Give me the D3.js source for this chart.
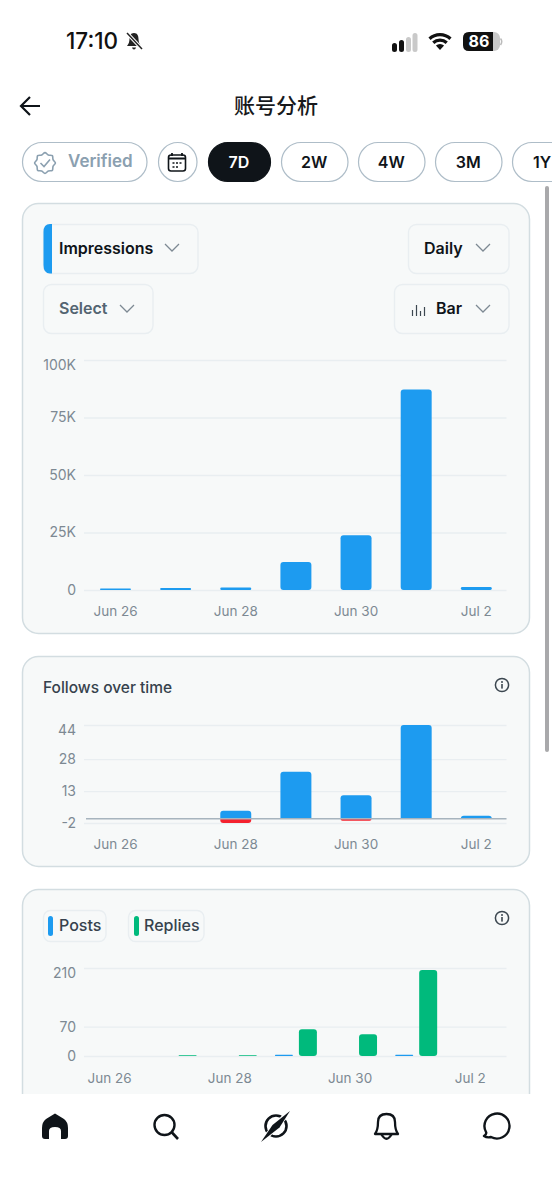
<!DOCTYPE html>
<html>
<head>
<meta charset="utf-8">
<script src="https://cdnjs.cloudflare.com/ajax/libs/d3/7.8.5/d3.min.js"></script>
<style>
html,body{margin:0;padding:0;background:#fff;overflow:hidden}
svg{display:block}
text{font-family:Inter,"Noto Sans",sans-serif}
</style>
</head>
<body>
<svg id="app" width="552" height="1199"></svg>
<script>
// Shared categories
const days = ["Jun 26","Jun 27","Jun 28","Jun 29","Jun 30","Jul 1","Jul 2"];
const dayTicks = ["Jun 26","Jun 28","Jun 30","Jul 2"];

// Impressions
const impressions = [700,850,1050,12200,23800,87200,1300];
const impressionTicks = [0,25000,50000,75000,100000];
const impressionLabels = ["0","25K","50K","75K","100K"];

// Follows
const followsGained = [0,0,3.7,22,11,44,1.4];
const followsLost = [0,0,-2,0,-0.9,0,0];
const followTicks = [-2,13,28,44];

// Posts and replies
const posts = [0,0,0,3,0,3,0];
const replies = [0,2,2,64,52,205,0];
const activityTicks = [0,70,210];

// Range selector
const rangePills = ["7D","2W","4W","3M","1Y"];

const BLUE="#1d9bf0", RED="#f4212e", GREEN="#00ba7c", INK="#0f1419",
      TICK="#7d8993", GRID="#e9eef1", CARD="#f7f9f9", EDGE="#d3dde1", BOX="#e9eef1", PILL="#aebdc8";

const svg=d3.select("#app");
svg.append("defs").append("clipPath").attr("id","page").append("rect")
  .attr("x",0).attr("y",0).attr("width",552).attr("height",1094);
const page=svg.append("g").attr("clip-path","url(#page)");

function card(y,h){
  page.append("rect").attr("x",22.5).attr("y",y).attr("width",507).attr("height",h)
    .attr("rx",16).attr("fill",CARD).attr("stroke",EDGE).attr("stroke-width",1.5);
}
function label(g,x,y,s,size,weight,fill,anchor){
  return g.append("text").attr("x",x).attr("y",y).text(s)
    .attr("font-size",size).attr("font-weight",weight).attr("fill",fill)
    .attr("text-anchor",anchor||"start");
}
function chevron(g,x,y){
  g.append("path").attr("d",`M${x-7} ${y-4}L${x} ${y+3}L${x+7} ${y-4}`)
    .attr("fill","none").attr("stroke","#7d8993").attr("stroke-width",1.25);
}
function box(g,x,y,w,h,r){
  g.append("rect").attr("x",x+.5).attr("y",y+.5).attr("width",w-.5).attr("height",h)
    .attr("rx",r||8).attr("fill",CARD).attr("stroke",BOX).attr("stroke-width",1.4);
}
function infoIcon(g,x,y){
  g.append("circle").attr("cx",x).attr("cy",y).attr("r",6.6).attr("fill","none")
    .attr("stroke","#3c4750").attr("stroke-width",1.5);
  g.append("circle").attr("cx",x).attr("cy",y-3).attr("r",1).attr("fill","#3c4750");
  g.append("rect").attr("x",x-.8).attr("y",y-1).attr("width",1.6).attr("height",4.6).attr("fill","#3c4750");
}
// Bar with only its top (dir 1) or bottom (dir -1) corners rounded
function capped(x,y0,y1,w,r,dir){
  const hi=Math.min(y0,y1), lo=Math.max(y0,y1), c=Math.min(r,lo-hi);
  const p=d3.path();
  if(dir>0){
    p.moveTo(x,lo);p.lineTo(x,hi+c);p.quadraticCurveTo(x,hi,x+c,hi);
    p.lineTo(x+w-c,hi);p.quadraticCurveTo(x+w,hi,x+w,hi+c);p.lineTo(x+w,lo);p.closePath();
  }else{
    p.moveTo(x,hi);p.lineTo(x,lo-c);p.quadraticCurveTo(x,lo,x+c,lo);
    p.lineTo(x+w-c,lo);p.quadraticCurveTo(x+w,lo,x+w,lo-c);p.lineTo(x+w,hi);p.closePath();
  }
  return p.toString();
}
function yAxis(g,y,ticks,fmt){
  const a=g.append("g").attr("transform","translate(84,0)")
    .call(d3.axisLeft(y).tickValues(ticks).tickSize(-422.5).tickPadding(8).tickFormat(fmt||(d=>d)));
  a.select(".domain").remove();
  a.selectAll("line").attr("stroke",GRID).attr("stroke-width",1.3);
  a.selectAll("text").attr("fill",TICK).attr("font-size",14).attr("font-family","Inter");
  // the topmost label sits just under its gridline
  const highest=d3.max(ticks);
  a.selectAll(".tick").filter(d=>d===highest).select("text").attr("dy","0.7em");
  return a;
}
function xAxis(g,x,y,dx){
  const a=g.append("g").attr("transform",`translate(${dx||0},${y})`)
    .call(d3.axisBottom(x).tickValues(dayTicks).tickSize(0).tickPadding(0));
  a.select(".domain").remove();
  a.selectAll("text").attr("fill",TICK).attr("font-size",13.5).attr("font-family","Inter");
}
const xBand=d3.scaleBand().domain(days).range([85.4,506.4]).paddingInner(0.485).paddingOuter(0.2425);

/* ---------- Impressions card ---------- */
card(203.5,430);
const c1=page.append("g");
box(c1,43,224,155,49);
c1.append("path").attr("d","M52 224H50Q43.5 224 43.5 232V265Q43.5 273.5 50 273.5H52Z").attr("fill",BLUE);
label(c1,59,254,"Impressions",16,600,INK);
chevron(c1,172,248);
box(c1,408,224,101,49);
label(c1,424,254,"Daily",16,600,INK);
chevron(c1,483,248);
box(c1,43,284,110,49);
label(c1,59,314,"Select",16,600,"#536471");
chevron(c1,127,309);
box(c1,394,284,115,49);
["M412.5 310v6","M416.5 305v11","M420.5 311v5","M424.5 307v9"].forEach(d=>
  c1.append("path").attr("d",d).attr("stroke","#3c4750").attr("stroke-width",1.2));
label(c1,436,314,"Bar",16,600,INK);
chevron(c1,483,309);

const y1=d3.scaleLinear().domain([0,100000]).range([590,360]);
yAxis(c1,y1,impressionTicks,d=>impressionLabels[impressionTicks.indexOf(d)]);
c1.selectAll(".bar").data(days).join("rect").attr("class","bar")
  .attr("x",d=>xBand(d)).attr("width",xBand.bandwidth())
  .attr("y",(d,i)=>y1(impressions[i])).attr("height",(d,i)=>y1(0)-y1(impressions[i]))
  .attr("rx",(d,i)=>Math.min(3,(y1(0)-y1(impressions[i]))/2)).attr("fill",BLUE);
xAxis(c1,xBand,606);

/* ---------- Follows card ---------- */
card(656.5,210);
const c2=page.append("g");
label(c2,43,693,"Follows over time",15.5,500,"#36424d");
infoIcon(c2,502,685);
const y2=d3.scaleLinear().domain([-2,44]).range([823,725]);
yAxis(c2,y2,followTicks);
c2.selectAll(".gain").data(days.filter((d,i)=>followsGained[i]>0)).join("path").attr("class","gain")
  .attr("d",d=>{const v=followsGained[days.indexOf(d)];
    return capped(xBand(d),y2(0),y2(v),xBand.bandwidth(),3,1);})
  .attr("fill",BLUE);
c2.selectAll(".loss").data(days.filter((d,i)=>followsLost[i]<0)).join("path").attr("class","loss")
  .attr("d",d=>{const v=followsLost[days.indexOf(d)];
    return capped(xBand(d),y2(0),y2(v),xBand.bandwidth(),3,-1);})
  .attr("fill",RED);
c2.append("line").attr("x1",86).attr("x2",506.5).attr("y1",y2(0)).attr("y2",y2(0))
  .attr("stroke","#a7b4be").attr("stroke-width",1.5);
xAxis(c2,xBand,839);

/* ---------- Posts and replies card ---------- */
card(889.5,240);
const c3=page.append("g");
box(c3,43,910,63,31,7);
c3.append("rect").attr("x",48).attr("y",916).attr("width",5).attr("height",20).attr("rx",2.5).attr("fill",BLUE);
label(c3,59,931,"Posts",16,500,"#36424d");
box(c3,128,910,76,31,7);
c3.append("rect").attr("x",134).attr("y",916).attr("width",5).attr("height",20).attr("rx",2.5).attr("fill",GREEN);
label(c3,144,931,"Replies",16,500,"#36424d");
infoIcon(c3,502,918);
const y3=d3.scaleLinear().domain([0,210]).range([1056,968]);
yAxis(c3,y3,activityTicks);
const xGroup=d3.scaleBand().domain(days).range([85.4,506.4]).paddingInner(0.302).paddingOuter(0.151);
const xSeries=d3.scaleBand().domain(["posts","replies"]).range([0,xGroup.bandwidth()]).paddingInner(0.25);
const activity=[["posts",posts,BLUE],["replies",replies,GREEN]];
activity.forEach(([name,vals,color])=>{
  c3.selectAll("."+name).data(days.filter((d,i)=>vals[i]>0)).join("rect").attr("class",name)
    .attr("x",d=>xGroup(d)+xSeries(name)).attr("width",xSeries.bandwidth())
    .attr("y",d=>y3(vals[days.indexOf(d)])).attr("height",d=>y3(0)-y3(vals[days.indexOf(d)]))
    .attr("rx",d=>Math.min(3,(y3(0)-y3(vals[days.indexOf(d)]))/2)).attr("fill",color);
});
xAxis(c3,xBand,1073,-6);

/* ---------- Scroll indicator ---------- */
svg.append("rect").attr("x",545).attr("y",186).attr("width",4).attr("height",566).attr("rx",2).attr("fill","#a9a9ab");

/* ---------- Status bar ---------- */
const statusBar=svg.append("g");
label(statusBar,66,49,"17:10",22.5,500,"#111");
statusBar.append("g").attr("transform","translate(126,32)").call(g=>{
  g.append("path").attr("d","M8 1C4.5 1 3.5 4 3.5 7C3.5 10 2.5 12 1 14H15C13.5 12 12.5 10 12.5 7C12.5 4 11.5 1 8 1Z").attr("fill","#222");
  g.append("path").attr("d","M6 15.5H10Q9.5 17.6 8 17.6Q6.5 17.6 6 15.5Z").attr("fill","#222");
  g.append("path").attr("d","M1 1L16 17").attr("stroke","#fff").attr("stroke-width",3.4);
  g.append("path").attr("d","M1 1L16 17").attr("stroke","#222").attr("stroke-width",1.5);
});
statusBar.append("path").attr("d","M394.5 45.5v4M401.5 42.5v7").attr("stroke","#111").attr("stroke-width",5).attr("stroke-linecap","round");
statusBar.append("path").attr("d","M408.5 39.5v10M415 35.5v14").attr("stroke","#c9c9c9").attr("stroke-width",5).attr("stroke-linecap","round");
[17,11.5].forEach(r=>{
  const arc=d3.arc().innerRadius(r-3.2).outerRadius(r).startAngle(-Math.PI/4.2).endAngle(Math.PI/4.2);
  statusBar.append("path").attr("transform","translate(440,50)").attr("d",arc()).attr("fill","#111");
});
statusBar.append("path").attr("transform","translate(440,50)")
  .attr("d",d3.arc().innerRadius(0).outerRadius(6).startAngle(-Math.PI/4.2).endAngle(Math.PI/4.2)()).attr("fill","#111");
statusBar.append("rect").attr("x",463).attr("y",32).attr("width",37).attr("height",19).attr("rx",6).attr("fill","#c9c9c9");
statusBar.append("path").attr("d","M469 32H493V51H469Q463 51 463 45V38Q463 32 469 32Z").attr("fill","#111");
statusBar.append("path").attr("d","M500.5 38.5Q503 41.5 500.5 45").attr("fill","none").attr("stroke","#bbb").attr("stroke-width",1.5);
label(statusBar,479,47,"86",16,700,"#fff","middle");

/* ---------- Header ---------- */
svg.append("path").attr("d","M40 106H21M30 97L21 106L30 115").attr("fill","none")
  .attr("stroke",INK).attr("stroke-width",2.2);
label(svg,276,113,"账号分析",21,500,"#17191c","middle").style("font-family","'Noto Sans CJK SC'");

/* ---------- Filter pills ---------- */
const pills=svg.append("g");
function pill(x,w,fill){
  pills.append("rect").attr("x",x+.5).attr("y",142.5).attr("width",w).attr("height",39).attr("rx",19.5)
    .attr("fill",fill).attr("stroke",fill===INK?INK:PILL).attr("stroke-width",1.2);
}
pill(22,124.5,"#fff");
label(pills,68,167,"Verified",17,600,"#8ba0b0");
pills.append("path").attr("d",d3.lineRadial().curve(d3.curveCardinalClosed)
  .angle((d,i)=>i*Math.PI/8).radius((d,i)=>i%2?8.7:10.4)(d3.range(16)))
  .attr("transform","translate(45,163)").attr("fill","none").attr("stroke","#8ba0b0").attr("stroke-width",1.6);
pills.append("path").attr("d","M40.5 163L44 166.5L50 159.5").attr("fill","none").attr("stroke","#8ba0b0").attr("stroke-width",1.6);
pill(158,38.5,"#fff");
pills.append("rect").attr("x",168.5).attr("y",155).attr("width",17).attr("height",16).attr("rx",2.5)
  .attr("fill","none").attr("stroke",INK).attr("stroke-width",1.6);
pills.append("path").attr("d","M168.5 158.5H185.5M172 153V156M182 153V156").attr("stroke",INK).attr("stroke-width",1.8);
pills.append("path").attr("d","M172.5 163h2M176 163h2M179.5 163h2M172.5 167h2M176 167h2").attr("stroke",INK).attr("stroke-width",1.7);
// Each range pill is sized to hold its label, laid out left to right with a fixed gap
let pillX=208;
rangePills.forEach((t,i)=>{
  const w=i===0?62:(i===4?60:66.5);
  pill(pillX,w,i===0?INK:"#fff");
  label(pills,pillX+(i===4?30:w/2),168,t,16,600,i===0?"#fff":INK,"middle");
  pillX+=w+(i===0?11:10.5);
});

/* ---------- Bottom navigation ---------- */
const nav=svg.append("g");
nav.append("rect").attr("x",0).attr("y",1094).attr("width",552).attr("height",105).attr("fill","#fff");
nav.append("path").attr("d","M42 1128Q42 1122 46 1119L55 1113.5L64 1119Q68 1122 68 1128V1136Q68 1139 65 1139H61V1131Q61 1127 55 1127Q49 1127 49 1131V1139H45Q42 1139 42 1136Z").attr("fill",INK);
nav.append("circle").attr("cx",164.5).attr("cy",1125).attr("r",10).attr("fill","none").attr("stroke",INK).attr("stroke-width",2.4);
nav.append("path").attr("d","M171.5 1132L178 1139").attr("stroke",INK).attr("stroke-width",2.6);
nav.append("circle").attr("cx",276).attr("cy",1126).attr("r",10.5).attr("fill","none").attr("stroke",INK).attr("stroke-width",2.6);
nav.append("path").attr("d","M262 1141L290 1111").attr("stroke","#fff").attr("stroke-width",5.5);
nav.append("path").attr("d","M261 1142L272.5 1125L290 1111L279.5 1127.5Z").attr("fill",INK);
nav.append("path").attr("d","M375 1134Q378 1130 378 1122Q378 1114 386.5 1114Q395 1114 395 1122Q395 1130 398 1134Z").attr("fill","none").attr("stroke",INK).attr("stroke-width",2.3).attr("stroke-linejoin","round");
nav.append("path").attr("d","M381.5 1134.5Q386.5 1143 391.5 1134.5").attr("fill","none").attr("stroke",INK).attr("stroke-width",2.3);
nav.append("path").attr("d","M484 1136Q487 1134 486 1132A12.5 12.5 0 1 1 491 1137Q487 1138 484 1136Z").attr("fill","none").attr("stroke",INK).attr("stroke-width",2.4).attr("stroke-linejoin","round");
</script>
</body>
</html>
